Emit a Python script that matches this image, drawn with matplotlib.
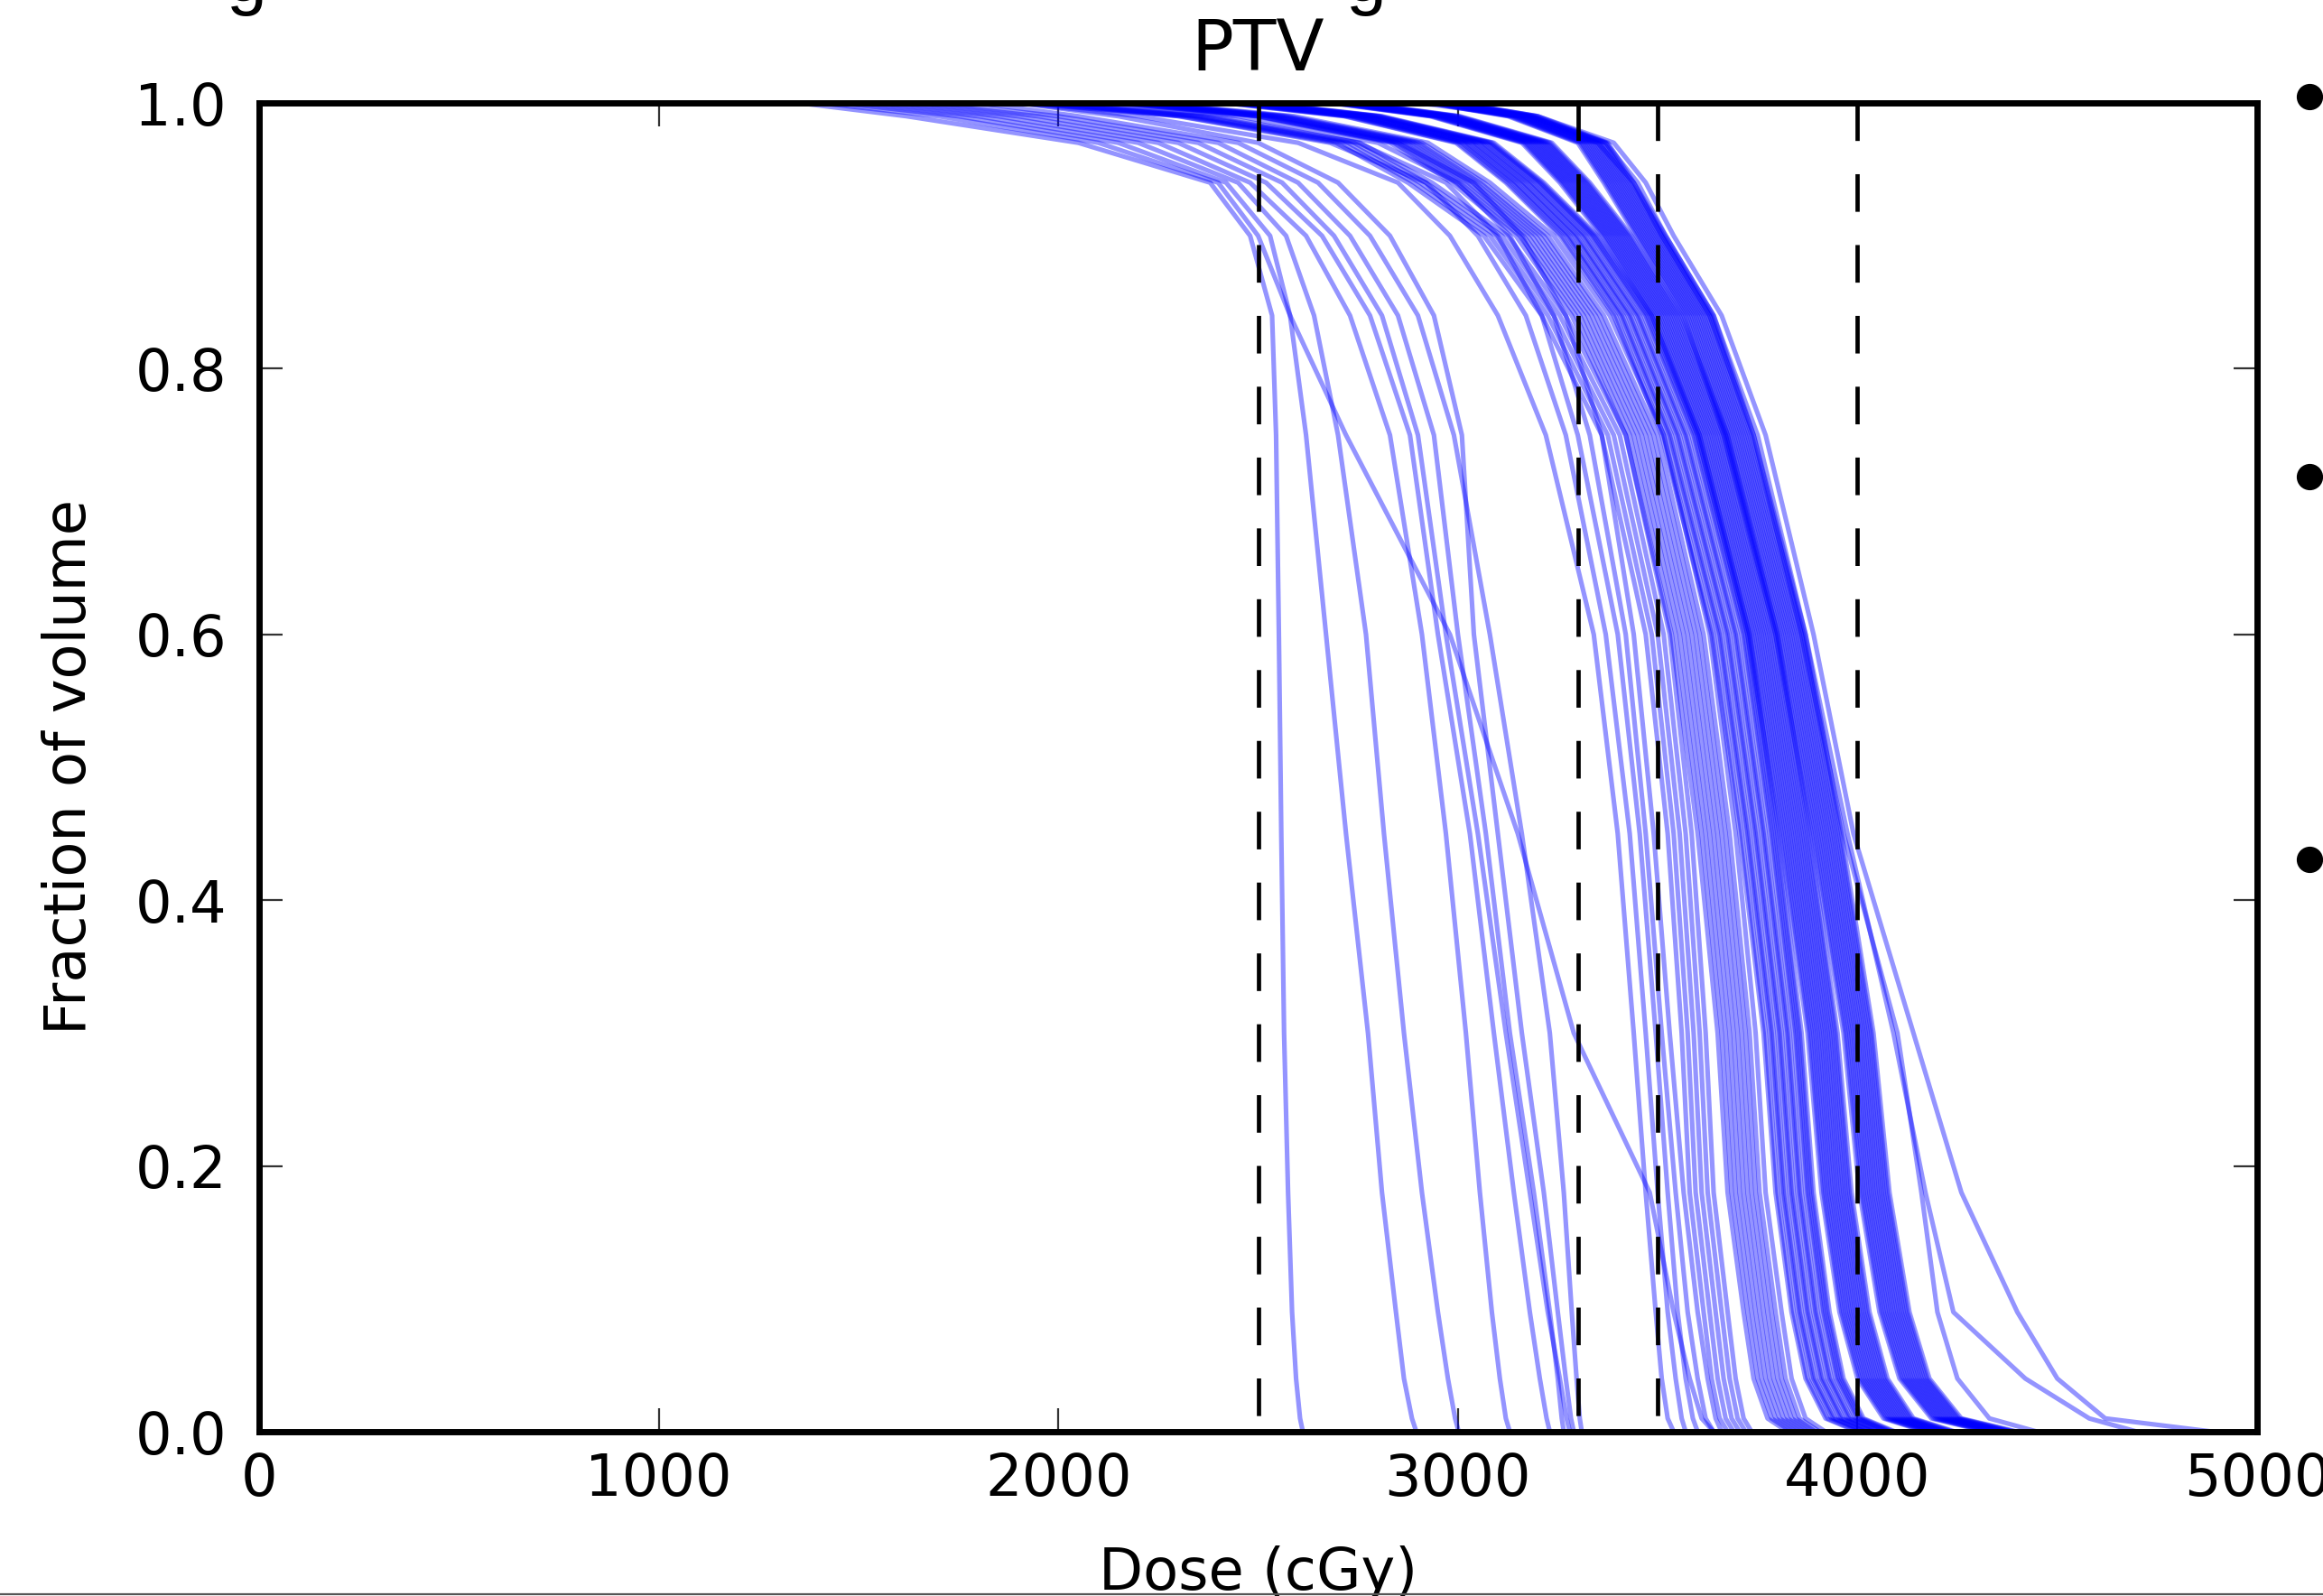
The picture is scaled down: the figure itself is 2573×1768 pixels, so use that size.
import numpy as np
import matplotlib
matplotlib.use("Agg")
import matplotlib.pyplot as plt
from matplotlib.lines import Line2D

# ---------------- data ----------------
# Fraction of volume at which each dose value (cGy) of a curve is given;
# every curve starts at full volume at 0 cGy.
volume_levels = [1.00, 0.99, 0.97, 0.94, 0.90, 0.84, 0.75, 0.60,
                 0.45, 0.30, 0.18, 0.09, 0.04, 0.01, 0.00]

# Early-shoulder curves that fan out from ~2500 cGy
fan_curves = [
    [1350, 1620, 2050, 2380, 2480, 2535, 2545, 2552, 2558, 2565, 2575, 2585, 2595, 2605, 2612],
    [1400, 1700, 2100, 2400, 2500, 2580, 2720, 2980, 3150, 3290, 3480, 3540, 3580, 3610, 3640],
    [1450, 1750, 2150, 2420, 2530, 2580, 2620, 2670, 2720, 2775, 2810, 2845, 2865, 2885, 2896],
    [1500, 1800, 2200, 2450, 2570, 2640, 2700, 2770, 2815, 2865, 2910, 2950, 2975, 2993, 3002],
    [1550, 1850, 2250, 2480, 2620, 2730, 2830, 2910, 2970, 3020, 3055, 3085, 3105, 3120, 3130],
    [1600, 1900, 2300, 2520, 2660, 2780, 2880, 2950, 3030, 3090, 3140, 3180, 3205, 3222, 3230],
    [1650, 1950, 2350, 2560, 2690, 2810, 2900, 2970, 3050, 3120, 3180, 3225, 3255, 3272, 3280],
    [1800, 2050, 2450, 2650, 2780, 2900, 2990, 3080, 3160, 3230, 3265, 3285, 3297, 3305, 3310],
    [1700, 2000, 2400, 2600, 2730, 2850, 2940, 3000, 3070, 3130, 3190, 3230, 3250, 3260, 3265],
    [1900, 2150, 2500, 2700, 2830, 2940, 3010, 3040, 3100, 3160, 3215, 3250, 3270, 3283, 3290],
]

# Curves that fall between the 3300 and 3500 cGy lines
shoulder_curves = [
    [1900, 2200, 2600, 2850, 2980, 3100, 3220, 3340, 3400, 3440, 3470, 3495, 3510, 3525, 3540],
    [2000, 2300, 2680, 2920, 3050, 3170, 3270, 3370, 3430, 3470, 3500, 3525, 3545, 3560, 3570],
    [2100, 2400, 2750, 2970, 3100, 3210, 3300, 3400, 3455, 3495, 3525, 3550, 3570, 3588, 3600],
    [2050, 2450, 2800, 3000, 3130, 3240, 3330, 3420, 3470, 3510, 3545, 3575, 3600, 3620, 3640],
    [2200, 2500, 2850, 3040, 3160, 3270, 3360, 3440, 3490, 3530, 3565, 3600, 3625, 3645, 3660],
]

# Main dense band, from its left edge to its right edge
main_band_curves = [
    [1905, 2305, 2695, 2875, 3065, 3210, 3360, 3470, 3525, 3560, 3580, 3615, 3635, 3655, 3675],
    [1920, 2320, 2710, 2890, 3080, 3225, 3375, 3485, 3540, 3575, 3595, 3630, 3650, 3670, 3690],
    [1935, 2335, 2725, 2905, 3095, 3240, 3390, 3500, 3555, 3590, 3610, 3645, 3665, 3685, 3705],
    [1950, 2350, 2740, 2920, 3110, 3255, 3405, 3515, 3570, 3605, 3625, 3660, 3680, 3700, 3720],
    [1965, 2365, 2755, 2935, 3125, 3270, 3420, 3530, 3585, 3620, 3640, 3675, 3695, 3715, 3735],
    [2145, 2495, 2830, 2985, 3145, 3285, 3420, 3535, 3600, 3650, 3675, 3715, 3740, 3775, 3825],
    [2155, 2505, 2840, 2995, 3155, 3295, 3430, 3545, 3610, 3660, 3685, 3725, 3750, 3785, 3835],
    [2165, 2515, 2850, 3005, 3165, 3305, 3440, 3555, 3620, 3670, 3695, 3735, 3760, 3795, 3845],
    [2175, 2525, 2860, 3015, 3175, 3315, 3450, 3565, 3630, 3680, 3705, 3745, 3770, 3805, 3855],
    [2185, 2535, 2870, 3025, 3185, 3325, 3460, 3575, 3640, 3690, 3715, 3755, 3780, 3815, 3865],
    [2195, 2545, 2880, 3035, 3195, 3335, 3470, 3585, 3650, 3700, 3725, 3765, 3790, 3825, 3875],
    [2205, 2555, 2890, 3045, 3205, 3345, 3480, 3595, 3660, 3710, 3735, 3775, 3800, 3835, 3885],
    [2215, 2565, 2900, 3055, 3215, 3355, 3490, 3605, 3670, 3720, 3745, 3785, 3810, 3845, 3895],
    [2225, 2575, 2910, 3065, 3225, 3365, 3500, 3615, 3680, 3730, 3755, 3795, 3820, 3855, 3905],
    [2240, 2590, 2925, 3080, 3240, 3380, 3515, 3630, 3695, 3745, 3770, 3810, 3835, 3870, 3920],
    [2415, 2715, 2995, 3120, 3255, 3390, 3510, 3635, 3705, 3765, 3795, 3835, 3870, 3920, 4000],
    [2420, 2720, 3000, 3125, 3260, 3395, 3515, 3640, 3710, 3770, 3800, 3840, 3875, 3925, 4005],
    [2430, 2730, 3010, 3135, 3270, 3405, 3525, 3650, 3720, 3780, 3810, 3850, 3885, 3935, 4015],
    [2435, 2735, 3015, 3140, 3275, 3410, 3530, 3655, 3725, 3785, 3815, 3855, 3890, 3940, 4020],
    [2440, 2740, 3020, 3145, 3280, 3415, 3535, 3660, 3730, 3790, 3820, 3860, 3895, 3945, 4025],
    [2450, 2750, 3030, 3155, 3290, 3425, 3545, 3670, 3740, 3800, 3830, 3870, 3905, 3955, 4035],
    [2455, 2755, 3035, 3160, 3295, 3430, 3550, 3675, 3745, 3805, 3835, 3875, 3910, 3960, 4040],
    [2460, 2760, 3040, 3165, 3300, 3435, 3555, 3680, 3750, 3810, 3840, 3880, 3915, 3965, 4045],
    [2470, 2770, 3050, 3175, 3310, 3445, 3565, 3690, 3760, 3820, 3850, 3890, 3925, 3975, 4055],
    [2475, 2775, 3055, 3180, 3315, 3450, 3570, 3695, 3765, 3825, 3855, 3895, 3930, 3980, 4060],
    [2480, 2780, 3060, 3185, 3320, 3455, 3575, 3700, 3770, 3830, 3860, 3900, 3935, 3985, 4065],
    [2490, 2790, 3070, 3195, 3330, 3465, 3585, 3710, 3780, 3840, 3870, 3910, 3945, 3995, 4075],
    [2495, 2795, 3075, 3200, 3335, 3470, 3590, 3715, 3785, 3845, 3875, 3915, 3950, 4000, 4080],
    [2500, 2800, 3080, 3205, 3340, 3475, 3595, 3720, 3790, 3850, 3880, 3920, 3955, 4005, 4085],
    [2505, 2805, 3085, 3210, 3345, 3480, 3600, 3725, 3795, 3855, 3885, 3925, 3960, 4010, 4090],
    [2510, 2810, 3090, 3215, 3350, 3485, 3605, 3730, 3800, 3860, 3890, 3930, 3965, 4015, 4095],
    [2680, 2930, 3160, 3255, 3360, 3485, 3600, 3725, 3805, 3875, 3910, 3955, 4000, 4065, 4170],
    [2685, 2935, 3165, 3260, 3365, 3490, 3605, 3730, 3810, 3880, 3915, 3960, 4005, 4070, 4175],
    [2690, 2940, 3170, 3265, 3370, 3495, 3610, 3735, 3815, 3885, 3920, 3965, 4010, 4075, 4180],
    [2695, 2945, 3175, 3270, 3375, 3500, 3615, 3740, 3820, 3890, 3925, 3970, 4015, 4080, 4185],
    [2700, 2950, 3180, 3275, 3380, 3505, 3620, 3745, 3825, 3895, 3930, 3975, 4020, 4085, 4190],
    [2705, 2955, 3185, 3280, 3385, 3510, 3625, 3750, 3830, 3900, 3935, 3980, 4025, 4090, 4195],
    [2710, 2960, 3190, 3285, 3390, 3515, 3630, 3755, 3835, 3905, 3940, 3985, 4030, 4095, 4200],
    [2715, 2965, 3195, 3290, 3395, 3520, 3635, 3760, 3840, 3910, 3945, 3990, 4035, 4100, 4205],
    [2720, 2970, 3200, 3295, 3400, 3525, 3640, 3765, 3845, 3915, 3950, 3995, 4040, 4105, 4210],
    [2725, 2975, 3205, 3300, 3405, 3530, 3645, 3770, 3850, 3920, 3955, 4000, 4045, 4110, 4215],
    [2730, 2980, 3210, 3305, 3410, 3535, 3650, 3775, 3855, 3925, 3960, 4005, 4050, 4115, 4220],
    [2735, 2985, 3215, 3310, 3415, 3540, 3655, 3780, 3860, 3930, 3965, 4010, 4055, 4120, 4225],
    [2740, 2990, 3220, 3315, 3420, 3545, 3660, 3785, 3865, 3935, 3970, 4015, 4060, 4125, 4230],
    [2745, 2995, 3225, 3320, 3425, 3550, 3665, 3790, 3870, 3940, 3975, 4020, 4065, 4130, 4235],
    [2750, 3000, 3230, 3325, 3430, 3555, 3670, 3795, 3875, 3945, 3980, 4025, 4070, 4135, 4240],
    [2755, 3005, 3235, 3330, 3435, 3560, 3675, 3800, 3880, 3950, 3985, 4030, 4075, 4140, 4245],
    [2925, 3125, 3300, 3365, 3445, 3565, 3665, 3795, 3885, 3965, 4005, 4055, 4105, 4185, 4325],
    [2930, 3130, 3305, 3370, 3450, 3570, 3670, 3800, 3890, 3970, 4010, 4060, 4110, 4190, 4330],
    [2935, 3135, 3310, 3375, 3455, 3575, 3675, 3805, 3895, 3975, 4015, 4065, 4115, 4195, 4335],
    [2940, 3140, 3315, 3380, 3460, 3580, 3680, 3810, 3900, 3980, 4020, 4070, 4120, 4200, 4340],
    [2945, 3145, 3320, 3385, 3465, 3585, 3685, 3815, 3905, 3985, 4025, 4075, 4125, 4205, 4345],
    [2950, 3150, 3325, 3390, 3470, 3590, 3690, 3820, 3910, 3990, 4030, 4080, 4130, 4210, 4350],
    [2955, 3155, 3330, 3395, 3475, 3595, 3695, 3825, 3915, 3995, 4035, 4085, 4135, 4215, 4355],
    [2960, 3160, 3335, 3400, 3480, 3600, 3700, 3830, 3920, 4000, 4040, 4090, 4140, 4220, 4360],
    [2965, 3165, 3340, 3405, 3485, 3605, 3705, 3835, 3925, 4005, 4045, 4095, 4145, 4225, 4365],
    [2970, 3170, 3345, 3410, 3490, 3610, 3710, 3840, 3930, 4010, 4050, 4100, 4150, 4230, 4370],
    [2975, 3175, 3350, 3415, 3495, 3615, 3715, 3845, 3935, 4015, 4055, 4105, 4155, 4235, 4375],
    [2980, 3180, 3355, 3420, 3500, 3620, 3720, 3850, 3940, 4020, 4060, 4110, 4160, 4240, 4380],
    [2985, 3185, 3360, 3425, 3505, 3625, 3725, 3855, 3945, 4025, 4065, 4115, 4165, 4245, 4385],
    [2990, 3190, 3365, 3430, 3510, 3630, 3730, 3860, 3950, 4030, 4070, 4120, 4170, 4250, 4390],
    [2995, 3195, 3370, 3435, 3515, 3635, 3735, 3865, 3955, 4035, 4075, 4125, 4175, 4255, 4395],
    [3000, 3200, 3375, 3440, 3520, 3640, 3740, 3870, 3960, 4040, 4080, 4130, 4180, 4260, 4400],
]

# Slow high-dose tails on the right
tail_curves = [
    [3000, 3200, 3390, 3470, 3540, 3660, 3770, 3890, 3990, 4140, 4260, 4400, 4500, 4620, 4890],
    [2950, 3180, 3370, 3450, 3520, 3640, 3750, 3870, 3975, 4090, 4170, 4240, 4420, 4580, 4700],
    [2900, 3160, 3350, 3440, 3510, 3630, 3740, 3860, 3965, 4100, 4160, 4200, 4250, 4330, 4450],
]

reference_doses = [2500, 3300, 3500, 4000]
x_ticks = [0, 1000, 2000, 3000, 4000, 5000]
y_ticks = [0.0, 0.2, 0.4, 0.6, 0.8, 1.0]
y_tick_labels = ["0.0", "0.2", "0.4", "0.6", "0.8", "1.0"]

# ---------------- figure ----------------
W, H, DPI = 2573, 1768, 100
plt.rcParams["font.family"] = ["DejaVu Sans"]
plt.rcParams["lines.scale_dashes"] = False
fig = plt.figure(figsize=(W / DPI, H / DPI), dpi=DPI)
ax = fig.add_axes([287 / W, 1 - 1586 / H, (2500 - 287) / W, (1586 - 114) / H])

all_curves = fan_curves + shoulder_curves + main_band_curves + tail_curves
vols = [1.0] + volume_levels
for row in all_curves:
    ax.plot([0] + row, vols, color=(0, 0, 1), alpha=0.42, lw=3.7,
            solid_capstyle="butt", solid_joinstyle="round", zorder=2)

for d in reference_doses:
    ax.plot([d, d], [1.0, 0.0], color="black", lw=3.4,
            dashes=(30, 26.5), zorder=3)

ax.set_xlim(0, 5000)
ax.set_ylim(0, 1.0)
ax.set_xticks(x_ticks)
ax.set_xticklabels([str(t) for t in x_ticks])
ax.set_yticks(y_ticks)
ax.set_yticklabels(y_tick_labels)
for s in ax.spines.values():
    s.set_linewidth(5)
    s.set_zorder(4)
ax.tick_params(direction="in", length=19, width=1.6, color="#333333",
               top=True, right=True, labelsize=46)
ax.tick_params(axis="x", pad=16)
ax.tick_params(axis="y", pad=26)

ax.set_title("PTV", fontsize=56, pad=26)
ax.set_ylabel("Fraction of volume", fontsize=46, labelpad=30)
ax.set_xlabel("Dose (cGy)", fontsize=46, labelpad=30)

# slide elements around the chart
fig.add_artist(Line2D([0, 1], [1 - 1765.5 / H, 1 - 1765.5 / H],
                      transform=fig.transFigure, color="#555555", lw=1.6))
for yb in [107, 528, 952]:
    fig.add_artist(Line2D([2558 / W], [1 - yb / H], transform=fig.transFigure,
                          marker="o", markersize=20, color="black", lw=0))
for xg in [273, 1513]:
    fig.text(xg / W, 1 - 1 / H, "g", fontsize=58, family=["Liberation Sans"],
             ha="center", va="baseline", color="black")

fig.savefig("out.png", dpi=DPI)
